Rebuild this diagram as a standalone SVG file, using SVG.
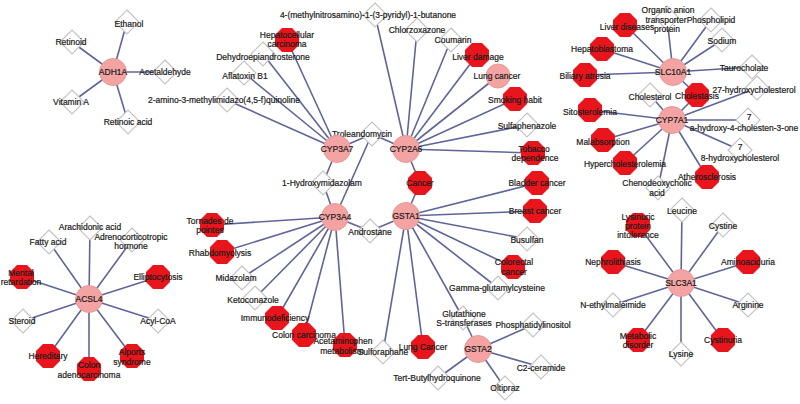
<svg xmlns="http://www.w3.org/2000/svg" xmlns:xlink="http://www.w3.org/1999/xlink" width="800" height="404" viewBox="0 0 800 404">
<style>
.e line{stroke:#5f6597;stroke-width:1.6}
.g{fill:#f4a3a3;stroke:#e89a9a;stroke-width:1}
.o{fill:#e8161c}
.d{fill:#fff;stroke:#c4c4c4;stroke-width:1.2}
text{font-family:"Liberation Sans",Arial,sans-serif;font-size:8.5px;fill:#1a1a1a;stroke:#1a1a1a;stroke-width:0.2;text-anchor:middle;dominant-baseline:central}
</style>
<defs>
<polygon id="oct" points="12,5 5,12 -5,12 -12,5 -12,-5 -5,-12 5,-12 12,-5"/>
<polygon id="dia" points="0,-12 12,0 0,12 -12,0"/>
</defs>
<rect width="800" height="404" fill="#fff"/>
<g id="connectors" class="e">
<line x1="113" y1="72" x2="127" y2="22"/><line x1="113" y1="72" x2="72" y2="42"/><line x1="113" y1="72" x2="165" y2="72"/><line x1="113" y1="72" x2="72" y2="102"/><line x1="113" y1="72" x2="128" y2="122"/>
<line x1="89" y1="299" x2="90" y2="228"/><line x1="89" y1="299" x2="49" y2="242"/><line x1="89" y1="299" x2="132" y2="240"/><line x1="89" y1="299" x2="22" y2="277"/><line x1="89" y1="299" x2="158" y2="277"/><line x1="89" y1="299" x2="23" y2="321"/><line x1="89" y1="299" x2="158" y2="321"/><line x1="89" y1="299" x2="48" y2="356"/><line x1="89" y1="299" x2="89" y2="369"/><line x1="89" y1="299" x2="132" y2="356"/>
<line x1="337" y1="149" x2="287" y2="40"/><line x1="337" y1="149" x2="263" y2="54"/><line x1="337" y1="149" x2="244" y2="73"/><line x1="337" y1="149" x2="227" y2="100"/><line x1="337" y1="149" x2="372" y2="134"/><line x1="337" y1="149" x2="323" y2="183"/>
<line x1="406" y1="149" x2="375" y2="15"/><line x1="406" y1="149" x2="417" y2="30"/><line x1="406" y1="149" x2="451" y2="40"/><line x1="406" y1="149" x2="477" y2="55"/><line x1="406" y1="149" x2="498" y2="76"/><line x1="406" y1="149" x2="515" y2="99"/><line x1="406" y1="149" x2="527" y2="125"/><line x1="406" y1="149" x2="533" y2="153"/><line x1="406" y1="149" x2="372" y2="134"/><line x1="406" y1="149" x2="420" y2="183"/>
<line x1="335" y1="217" x2="323" y2="183"/><line x1="335" y1="217" x2="372" y2="134"/><line x1="335" y1="217" x2="212" y2="225"/><line x1="335" y1="217" x2="222" y2="252"/><line x1="335" y1="217" x2="242" y2="278"/><line x1="335" y1="217" x2="255" y2="298"/><line x1="335" y1="217" x2="277" y2="318"/><line x1="335" y1="217" x2="304" y2="335"/><line x1="335" y1="217" x2="345" y2="345"/><line x1="335" y1="217" x2="370" y2="231"/>
<line x1="406" y1="216" x2="420" y2="183"/><line x1="406" y1="216" x2="370" y2="231"/><line x1="406" y1="216" x2="537" y2="183"/><line x1="406" y1="216" x2="535" y2="211"/><line x1="406" y1="216" x2="527" y2="239"/><line x1="406" y1="216" x2="513" y2="267"/><line x1="406" y1="216" x2="498" y2="288"/><line x1="406" y1="216" x2="463" y2="318"/><line x1="406" y1="216" x2="423" y2="347"/><line x1="406" y1="216" x2="383" y2="352"/>
<line x1="478" y1="349" x2="463" y2="318"/><line x1="478" y1="349" x2="533" y2="325"/><line x1="478" y1="349" x2="541" y2="367"/><line x1="478" y1="349" x2="505" y2="388"/><line x1="478" y1="349" x2="438" y2="378"/>
<line x1="673" y1="72" x2="625" y2="25"/><line x1="673" y1="72" x2="667" y2="18"/><line x1="673" y1="72" x2="711" y2="20"/><line x1="673" y1="72" x2="722" y2="40"/><line x1="673" y1="72" x2="752" y2="67"/><line x1="673" y1="72" x2="602" y2="49"/><line x1="673" y1="72" x2="585" y2="75"/><line x1="673" y1="72" x2="697" y2="95"/>
<line x1="672" y1="120" x2="697" y2="95"/><line x1="672" y1="120" x2="650" y2="95"/><line x1="672" y1="120" x2="757" y2="88"/><line x1="672" y1="120" x2="590" y2="110"/><line x1="672" y1="120" x2="748" y2="120"/><line x1="672" y1="120" x2="603" y2="140"/><line x1="672" y1="120" x2="625" y2="163"/><line x1="672" y1="120" x2="740" y2="150"/><line x1="672" y1="120" x2="707" y2="177"/><line x1="672" y1="120" x2="658" y2="188"/>
<line x1="681" y1="283" x2="682" y2="210"/><line x1="681" y1="283" x2="723" y2="225"/><line x1="681" y1="283" x2="638" y2="225"/><line x1="681" y1="283" x2="613" y2="262"/><line x1="681" y1="283" x2="748" y2="262"/><line x1="681" y1="283" x2="613" y2="305"/><line x1="681" y1="283" x2="748" y2="305"/><line x1="681" y1="283" x2="638" y2="340"/><line x1="681" y1="283" x2="723" y2="340"/><line x1="681" y1="283" x2="681" y2="354"/>
</g>
<g id="Ethanol"><use href="#dia" x="127" y="22" class="d"/><text x="129" y="24">Ethanol</text></g>
<g id="Retinoid"><use href="#dia" x="72" y="42" class="d"/><text x="71" y="42">Retinoid</text></g>
<g id="Acetaldehyde"><use href="#dia" x="165" y="72" class="d"/><text x="165" y="72">Acetaldehyde</text></g>
<g id="VitaminA"><use href="#dia" x="72" y="102" class="d"/><text x="71" y="102">Vitamin A</text></g>
<g id="RetinoicAcid"><use href="#dia" x="128" y="122" class="d"/><text x="128" y="122">Retinoic acid</text></g>
<g id="Arachidonic"><use href="#dia" x="90" y="228" class="d"/><text x="90" y="227">Arachidonic acid</text></g>
<g id="FattyAcid"><use href="#dia" x="49" y="242" class="d"/><text x="48" y="242">Fatty acid</text></g>
<g id="ACTH"><use href="#dia" x="132" y="240" class="d"/><text x="131" y="237">Adrenocorticotropic</text><text x="131" y="246">hormone</text></g>
<g id="Steroid"><use href="#dia" x="23" y="321" class="d"/><text x="22" y="321">Steroid</text></g>
<g id="AcylCoA"><use href="#dia" x="158" y="321" class="d"/><text x="158" y="321">Acyl-CoA</text></g>
<g id="DHEA"><use href="#dia" x="263" y="54" class="d"/><text x="263" y="57">Dehydroepiandrosterone</text></g>
<g id="Aflatoxin"><use href="#dia" x="244" y="73" class="d"/><text x="245" y="76">Aflatoxin B1</text></g>
<g id="Amino"><use href="#dia" x="227" y="100" class="d"/><text x="224" y="100">2-amino-3-methylimidazo(4,5-f)quinoline</text></g>
<g id="NNK"><use href="#dia" x="375" y="15" class="d"/><text x="368" y="15">4-(methylnitrosamino)-1-(3-pyridyl)-1-butanone</text></g>
<g id="Chlorzoxazone"><use href="#dia" x="417" y="30" class="d"/><text x="417" y="30">Chlorzoxazone</text></g>
<g id="Coumarin"><use href="#dia" x="451" y="40" class="d"/><text x="453" y="40">Coumarin</text></g>
<g id="Sulfaphenazole"><use href="#dia" x="527" y="125" class="d"/><text x="527" y="126">Sulfaphenazole</text></g>
<g id="Troleandomycin"><use href="#dia" x="372" y="134" class="d"/><text x="362" y="134">Troleandomycin</text></g>
<g id="Hydroxymidazolam"><use href="#dia" x="323" y="183" class="d"/><text x="322" y="183">1-Hydroxymidazolam</text></g>
<g id="Midazolam"><use href="#dia" x="242" y="278" class="d"/><text x="236" y="278">Midazolam</text></g>
<g id="Ketoconazole"><use href="#dia" x="255" y="298" class="d"/><text x="253" y="300">Ketoconazole</text></g>
<g id="Androstane"><use href="#dia" x="370" y="231" class="d"/><text x="370" y="232">Androstane</text></g>
<g id="Busulfan"><use href="#dia" x="527" y="239" class="d"/><text x="527" y="240">Busulfan</text></g>
<g id="Gamma"><use href="#dia" x="498" y="288" class="d"/><text x="497" y="288">Gamma-glutamylcysteine</text></g>
<g id="Glutathione"><use href="#dia" x="463" y="318" class="d"/><text x="464" y="314">Glutathione</text><text x="464" y="323">S-transferases</text></g>
<g id="Sulforaphane"><use href="#dia" x="383" y="352" class="d"/><text x="383" y="352">Sulforaphane</text></g>
<g id="Phosphatidylinositol"><use href="#dia" x="533" y="325" class="d"/><text x="533" y="325">Phosphatidylinositol</text></g>
<g id="C2ceramide"><use href="#dia" x="541" y="367" class="d"/><text x="541" y="368">C2-ceramide</text></g>
<g id="Oltipraz"><use href="#dia" x="505" y="388" class="d"/><text x="505" y="388">Oltipraz</text></g>
<g id="TBHQ"><use href="#dia" x="438" y="378" class="d"/><text x="437" y="378">Tert-Butylhydroquinone</text></g>
<g id="OrganicAnion"><use href="#dia" x="667" y="18" class="d"/><text x="668" y="10">Organic anion</text><text x="666" y="20">transporter</text><text x="667" y="29">protein</text></g>
<g id="Phospholipid"><use href="#dia" x="711" y="20" class="d"/><text x="711" y="20">Phospholipid</text></g>
<g id="Sodium"><use href="#dia" x="722" y="40" class="d"/><text x="722" y="41">Sodium</text></g>
<g id="Taurocholate"><use href="#dia" x="752" y="67" class="d"/><text x="744" y="68">Taurocholate</text></g>
<g id="Cholesterol"><use href="#dia" x="650" y="95" class="d"/><text x="650" y="97">Cholesterol</text></g>
<g id="Hydroxy27"><use href="#dia" x="757" y="88" class="d"/><text x="754" y="90">27-hydroxycholesterol</text></g>
<g id="Cholestenone"><use href="#dia" x="748" y="120" class="d"/><text x="749" y="117">7</text><text x="744" y="128">a-hydroxy-4-cholesten-3-one</text></g>
<g id="Hydroxycholesterol8"><use href="#dia" x="740" y="150" class="d"/><text x="740" y="147">7</text><text x="740" y="158">8-hydroxycholesterol</text></g>
<g id="Chenodeoxycholic"><use href="#dia" x="658" y="188" class="d"/><text x="657" y="183">Chenodeoxycholic</text><text x="657" y="193">acid</text></g>
<g id="Leucine"><use href="#dia" x="682" y="210" class="d"/><text x="682" y="211">Leucine</text></g>
<g id="Cystine"><use href="#dia" x="723" y="225" class="d"/><text x="723" y="226">Cystine</text></g>
<g id="NEM"><use href="#dia" x="613" y="305" class="d"/><text x="613" y="305">N-ethylmaleimide</text></g>
<g id="Arginine"><use href="#dia" x="748" y="305" class="d"/><text x="748" y="305">Arginine</text></g>
<g id="Lysine"><use href="#dia" x="681" y="354" class="d"/><text x="681" y="354">Lysine</text></g>
<g id="MentalRet"><use href="#oct" x="22" y="277" class="o"/><text x="21" y="273">Mental</text><text x="21" y="282">retardation</text></g>
<g id="Elliptocytosis"><use href="#oct" x="158" y="277" class="o"/><text x="158" y="277">Elliptocytosis</text></g>
<g id="Hereditary"><use href="#oct" x="48" y="356" class="o"/><text x="48" y="356">Hereditary</text></g>
<g id="ColonAdeno"><use href="#oct" x="89" y="369" class="o"/><text x="89" y="365">Colon</text><text x="89" y="375">adenocarcinoma</text></g>
<g id="Alports"><use href="#oct" x="132" y="356" class="o"/><text x="132" y="352">Alports</text><text x="132" y="362">syndrome</text></g>
<g id="Hepatocellular"><use href="#oct" x="287" y="40" class="o"/><text x="287" y="35">Hepatocellular</text><text x="287" y="44">carcinoma</text></g>
<g id="LiverDamage"><use href="#oct" x="477" y="55" class="o"/><text x="478" y="57">Liver damage</text></g>
<g id="SmokingHabit"><use href="#oct" x="515" y="99" class="o"/><text x="515" y="100">Smoking habit</text></g>
<g id="Tobacco"><use href="#oct" x="533" y="153" class="o"/><text x="534" y="149">Tobacco</text><text x="535" y="158">dependence</text></g>
<g id="Cancer"><use href="#oct" x="420" y="183" class="o"/><text x="420" y="183">Cancer</text></g>
<g id="Tornades"><use href="#oct" x="212" y="225" class="o"/><text x="210" y="221">Tornades de</text><text x="210" y="230">pointes</text></g>
<g id="Rhabdo"><use href="#oct" x="222" y="252" class="o"/><text x="220" y="253">Rhabdomyolysis</text></g>
<g id="Immuno"><use href="#oct" x="277" y="318" class="o"/><text x="275" y="318">Immunodeficiency</text></g>
<g id="ColonCarc"><use href="#oct" x="304" y="335" class="o"/><text x="304" y="335">Colon carcinoma</text></g>
<g id="Acetaminophen"><use href="#oct" x="345" y="345" class="o"/><text x="343" y="341">Acetaminophen</text><text x="342" y="351">metabolism</text></g>
<g id="Bladder"><use href="#oct" x="537" y="183" class="o"/><text x="537" y="183">Bladder cancer</text></g>
<g id="Breast"><use href="#oct" x="535" y="211" class="o"/><text x="535" y="211">Breast cancer</text></g>
<g id="Colorectal"><use href="#oct" x="513" y="267" class="o"/><text x="514" y="262">Colorectal</text><text x="514" y="272">cancer</text></g>
<g id="LungCancerOct"><use href="#oct" x="423" y="347" class="o"/><text x="423" y="347">Lung Cancer</text></g>
<g id="LiverDiseases"><use href="#oct" x="625" y="25" class="o"/><text x="627" y="27">Liver diseases</text></g>
<g id="Hepatoblastoma"><use href="#oct" x="602" y="49" class="o"/><text x="602" y="49">Hepatoblastoma</text></g>
<g id="Biliary"><use href="#oct" x="585" y="75" class="o"/><text x="585" y="76">Biliary atresia</text></g>
<g id="Cholestasis"><use href="#oct" x="697" y="95" class="o"/><text x="697" y="96">Cholestasis</text></g>
<g id="Sitosterolemia"><use href="#oct" x="590" y="110" class="o"/><text x="590" y="112">Sitosterolemia</text></g>
<g id="Malabsorption"><use href="#oct" x="603" y="140" class="o"/><text x="603" y="142">Malabsorption</text></g>
<g id="Hypercholesterolemia"><use href="#oct" x="625" y="163" class="o"/><text x="625" y="164">Hypercholesterolemia</text></g>
<g id="Atherosclerosis"><use href="#oct" x="707" y="177" class="o"/><text x="707" y="177">Atherosclerosis</text></g>
<g id="Lysinuric"><use href="#oct" x="638" y="225" class="o"/><text x="638" y="217">Lysinuric</text><text x="638" y="226">protein</text><text x="638" y="235">intolerance</text></g>
<g id="Nephrolithiasis"><use href="#oct" x="613" y="262" class="o"/><text x="613" y="262">Nephrolithiasis</text></g>
<g id="Aminoaciduria"><use href="#oct" x="748" y="262" class="o"/><text x="748" y="262">Aminoaciduria</text></g>
<g id="Metabolic"><use href="#oct" x="638" y="340" class="o"/><text x="638" y="336">Metabolic</text><text x="638" y="345">disorder</text></g>
<g id="Cystinuria"><use href="#oct" x="723" y="340" class="o"/><text x="723" y="340">Cystinuria</text></g>
<g id="LungCancerCircle"><circle cx="498" cy="76" r="12" class="g"/><text x="497" y="76">Lung cancer</text></g>
<g id="ADH1A"><circle cx="113" cy="72" r="13.5" class="g"/><text x="113" y="72">ADH1A</text></g>
<g id="ACSL4"><circle cx="89" cy="299" r="13.5" class="g"/><text x="89" y="299">ACSL4</text></g>
<g id="CYP3A7"><circle cx="337" cy="149" r="13.5" class="g"/><text x="337" y="149">CYP3A7</text></g>
<g id="CYP2A6"><circle cx="406" cy="149" r="13.5" class="g"/><text x="406" y="149">CYP2A6</text></g>
<g id="CYP3A4"><circle cx="335" cy="217" r="13.5" class="g"/><text x="335" y="217">CYP3A4</text></g>
<g id="GSTA1"><circle cx="406" cy="216" r="13.5" class="g"/><text x="406" y="216">GSTA1</text></g>
<g id="GSTA2"><circle cx="478" cy="349" r="13.5" class="g"/><text x="478" y="349">GSTA2</text></g>
<g id="SLC10A1"><circle cx="673" cy="72" r="13.5" class="g"/><text x="673" y="72">SLC10A1</text></g>
<g id="CYP7A1"><circle cx="672" cy="120" r="13.5" class="g"/><text x="672" y="120">CYP7A1</text></g>
<g id="SLC3A1"><circle cx="681" cy="283" r="13.5" class="g"/><text x="681" y="283">SLC3A1</text></g>
</svg>
